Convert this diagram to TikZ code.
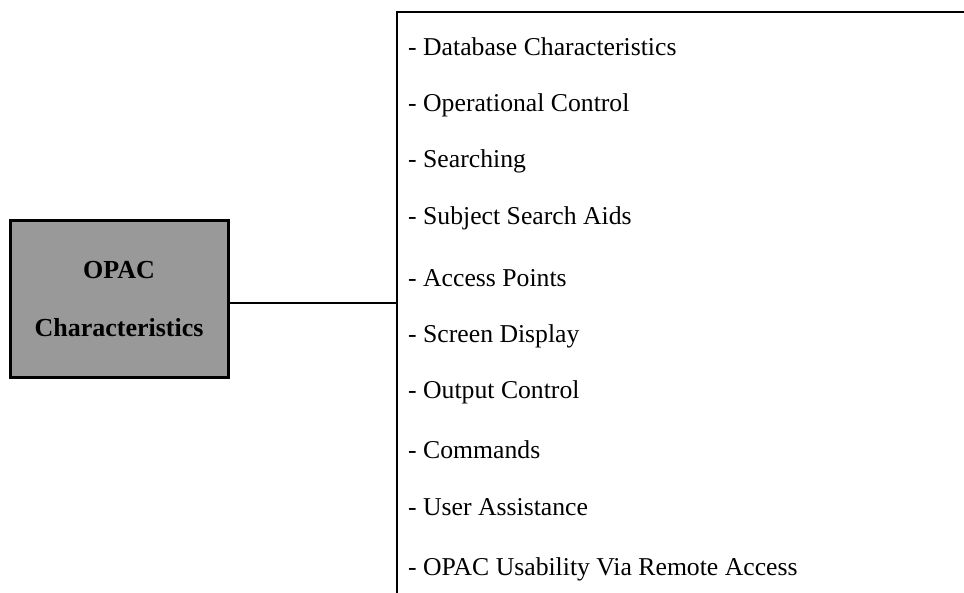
\documentclass[tikz,border=0pt]{standalone}
\usepackage{fontspec}
\setmainfont{Liberation Serif}
\begin{document}
\begin{tikzpicture}[x=1pt,y=-1pt,
  item/.style={anchor=base west,inner sep=0pt,font=\fontsize{25.7}{28}\selectfont},
  mainbox/.style={draw=black,line width=3pt,fill=black!40,minimum width=218pt,minimum height=157pt,inner sep=0pt,align=center,font=\fontsize{26}{58}\selectfont\bfseries},
  conn/.style={draw=black,line width=2pt}]
\useasboundingbox (0,0) rectangle (964,593);
\node[mainbox] (box) at (119,299.5) {OPAC\\Characteristics};
\coordinate (vtop) at (397,12);
\coordinate (vbot) at (397,593);
\coordinate (hend) at (964,12);
\coordinate (joint) at (397,303);
\draw[conn] (hend) -- (vtop) -- (vbot);
\draw[conn] (box.east |- joint) -- (joint);
\node[item] (i1) at (408,56) {- Database Characteristics};
\node[item] (i2) at (408,112) {- Operational Control};
\node[item] (i3) at (408,168) {- Searching};
\node[item] (i4) at (408,225) {- Subject Search Aids};
\node[item] (i5) at (408,287) {- Access Points};
\node[item] (i6) at (408,343) {- Screen Display};
\node[item] (i7) at (408,399) {- Output Control};
\node[item] (i8) at (408,458) {- Commands};
\node[item] (i9) at (408,515) {- User Assistance};
\node[item] (i10) at (408,575) {- OPAC Usability Via Remote Access};
\end{tikzpicture}
\end{document}
